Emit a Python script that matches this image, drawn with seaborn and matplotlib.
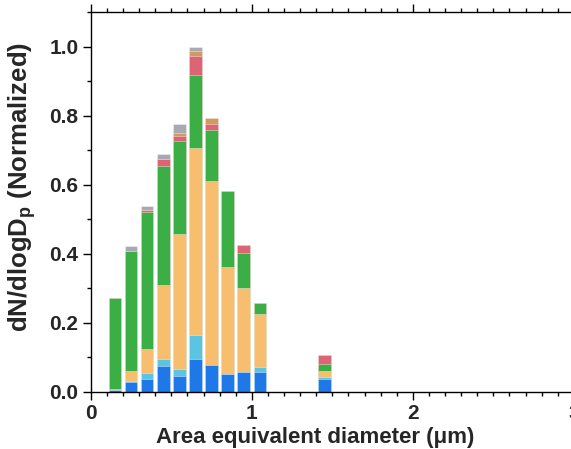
import matplotlib
matplotlib.use("Agg")
import matplotlib.pyplot as plt
from matplotlib.ticker import MultipleLocator, FormatStrFormatter
import numpy as np
import pandas as pd
import seaborn as sns

# Bin centres (area equivalent diameter, um)
diam = [0.15, 0.25, 0.35, 0.45, 0.55, 0.65, 0.75, 0.85, 0.95, 1.05, 1.45]

# Normalised dN/dlogDp contribution of each particle class per bin (bottom to top)
blue = [0.005, 0.028, 0.038, 0.076, 0.047, 0.095, 0.077, 0.053, 0.058, 0.058, 0.038]
light_blue = [0.000, 0.003, 0.016, 0.020, 0.020, 0.071, 0.000, 0.000, 0.000, 0.014, 0.006]
peach = [0.003, 0.030, 0.070, 0.214, 0.391, 0.540, 0.534, 0.309, 0.242, 0.153, 0.017]
green = [0.263, 0.346, 0.396, 0.345, 0.269, 0.212, 0.148, 0.220, 0.102, 0.034, 0.021]
red = [0.000, 0.000, 0.008, 0.021, 0.014, 0.054, 0.017, 0.000, 0.024, 0.000, 0.026]
tan = [0.000, 0.000, 0.000, 0.000, 0.008, 0.015, 0.017, 0.000, 0.000, 0.000, 0.000]
gray = [0.000, 0.015, 0.010, 0.012, 0.026, 0.013, 0.000, 0.000, 0.000, 0.000, 0.000]

layers = [blue, light_blue, peach, green, red, tan, gray]
colors = ["#1F78E8", "#5BC4E0", "#F7BE70", "#3BAF45", "#DC6575", "#D4995C", "#A9A9B5"]

sns.set_style("ticks")
plt.rcParams["font.family"] = ["Liberation Sans", "DejaVu Sans"]
plt.rcParams["font.weight"] = "bold"
plt.rcParams["mathtext.fontset"] = "custom"
plt.rcParams["mathtext.rm"] = "Liberation Sans:bold"
plt.rcParams["mathtext.it"] = "Liberation Sans:bold"
plt.rcParams["mathtext.bf"] = "Liberation Sans:bold"

fig = plt.figure(figsize=(5.71, 4.49), dpi=100)
ax = fig.add_axes([0.159, 0.127, 0.846, 0.846])

# Stack by drawing cumulative totals from the top layer down
cum = np.cumsum(np.array(layers), axis=0)
for i in range(len(layers) - 1, -1, -1):
    df = pd.DataFrame({"d": diam, "v": cum[i]})
    sns.barplot(data=df, x="d", y="v", native_scale=True, color=colors[i],
                saturation=1, width=0.78, errorbar=None, ax=ax,
                edgecolor=(1, 1, 1, 0.45), linewidth=0.6)

ax.set_xlim(0, 3)
ax.set_ylim(0, 1.1)
ax.xaxis.set_major_locator(MultipleLocator(1))
ax.xaxis.set_minor_locator(MultipleLocator(0.1))
ax.yaxis.set_major_locator(MultipleLocator(0.2))
ax.yaxis.set_minor_locator(MultipleLocator(0.1))
ax.yaxis.set_major_formatter(FormatStrFormatter("%.1f"))
ax.xaxis.set_major_formatter(FormatStrFormatter("%d"))

for s in ["left", "bottom", "top", "right"]:
    ax.spines[s].set_visible(True)
    ax.spines[s].set_linewidth(1.0)
    ax.spines[s].set_color("black")

ax.tick_params(which="both", direction="out", top=True, right=False,
               labeltop=False, color="black", width=1.0)
ax.tick_params(which="major", length=6, labelsize=15, pad=3)
ax.tick_params(which="minor", length=3)
for lab in ax.get_xticklabels() + ax.get_yticklabels():
    lab.set_fontweight("bold")

ax.set_xlabel("Area equivalent diameter (\u03bcm)", fontsize=16, fontweight="bold")
ax.xaxis.set_label_coords(0.465, -0.093)
ax.set_ylabel(r"dN/dlogD$_\mathregular{p}$ (Normalized)", fontsize=18.5, fontweight="bold")
ax.yaxis.set_label_coords(-0.109, 0.54)

fig.savefig("out.png", dpi=100)
